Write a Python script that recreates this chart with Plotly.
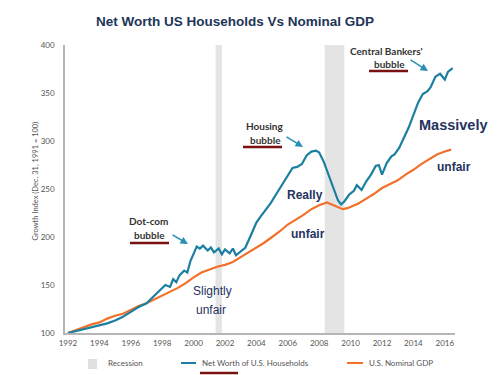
import plotly.graph_objects as go

# ---- data ----
nw_years = [1992.0, 1992.5, 1993.0, 1993.5, 1994.0, 1994.5, 1995.0, 1995.5, 1996.0, 1996.5,
            1997.0, 1997.3, 1997.6, 1997.9, 1998.2, 1998.5, 1998.7, 1998.9, 1999.1, 1999.4,
            1999.6, 1999.8, 2000.0, 2000.2, 2000.4, 2000.6, 2000.9, 2001.1, 2001.3, 2001.6,
            2001.8, 2002.0, 2002.3, 2002.5, 2002.7, 2003.0, 2003.3, 2003.6, 2004.0, 2004.3,
            2004.6, 2004.9, 2005.2, 2005.5, 2005.8, 2006.1, 2006.3, 2006.6, 2006.9, 2007.2,
            2007.5, 2007.8, 2008.0, 2008.3, 2008.6, 2008.9, 2009.2, 2009.4, 2009.6, 2009.9,
            2010.2, 2010.4, 2010.7, 2011.0, 2011.3, 2011.6, 2011.8, 2012.0, 2012.3, 2012.6,
            2012.8, 2013.1, 2013.4, 2013.7, 2014.0, 2014.3, 2014.6, 2014.9, 2015.1, 2015.4,
            2015.7, 2016.0, 2016.2, 2016.5]
net_worth = [100, 102, 104, 106, 108, 110, 113, 117, 122, 127,
             131, 136, 141, 146, 150, 148, 156, 153, 160, 165,
             163, 175, 182, 190, 188, 191, 186, 189, 184, 188,
             182, 187, 183, 188, 181, 185, 189, 200, 215, 222,
             228, 235, 243, 251, 258, 266, 272, 273, 276, 285,
             289, 290, 288, 278, 265, 251, 238, 234, 237, 244,
             248, 254, 249, 258, 265, 274, 275, 265, 277, 284,
             286, 293, 303, 314, 327, 340, 349, 352, 356, 367,
             370, 364, 372, 376]

gdp_years = [1992.0, 1992.5, 1993.0, 1993.5, 1994.0, 1994.5, 1995.0, 1995.5, 1996.0, 1996.5,
             1997.0, 1997.5, 1998.0, 1998.5, 1999.0, 1999.5, 2000.0, 2000.5, 2001.0, 2001.5,
             2002.0, 2002.5, 2003.0, 2003.5, 2004.0, 2004.5, 2005.0, 2005.5, 2006.0, 2006.5,
             2007.0, 2007.5, 2008.0, 2008.5, 2008.8, 2009.2, 2009.5, 2009.8, 2010.2, 2010.5,
             2011.0, 2011.5, 2012.0, 2012.5, 2013.0, 2013.5, 2014.0, 2014.5, 2015.0, 2015.5,
             2016.0, 2016.4]
nominal_gdp = [100, 103, 106, 109, 111, 115, 118, 120, 124, 128,
               131, 135, 139, 143, 147, 152, 158, 163, 166, 169,
               171, 174, 179, 184, 189, 194, 200, 206, 213, 218,
               223, 229, 233, 236, 234, 231, 229, 230, 233, 235,
               240, 245, 251, 255, 259, 265, 270, 276, 281, 286,
               289, 291]

recession_start = [2001.4, 2008.35]
recession_end = [2001.8, 2009.6]

x_ticks = list(range(1992, 2017, 2))
y_ticks = [100, 150, 200, 250, 300, 350, 400]

# ---- layout helpers (pixel -> paper) ----
L, R, T, B = 57, 447, 37, 325
W, H = 500, 375


def px(x):
    return (x - L) / (R - L)


def py(y):
    return (B - y) / (B - T)


BLUE = "#1a7fa0"
ORANGE = "#f2702a"
NAVY = "#24335e"
DARKRED = "#7a1212"
GRAY = "#555555"

fig = go.Figure()

fig.add_trace(go.Scatter(x=gdp_years, y=nominal_gdp, mode="lines",
                         line=dict(color=ORANGE, width=2.2), showlegend=False))
fig.add_trace(go.Scatter(x=nw_years, y=net_worth, mode="lines",
                         line=dict(color=BLUE, width=2.2), showlegend=False))

shapes = []
for s, e in zip(recession_start, recession_end):
    shapes.append(dict(type="rect", xref="x", yref="paper", x0=s, x1=e, y0=0, y1=1,
                       fillcolor="#e4e4e4", line=dict(width=0), layer="below"))

ann = []


def text(x, y, t, size, color, family, bold=False, xanchor="center"):
    ann.append(dict(xref="paper", yref="paper", x=px(x), y=py(y), text=("<b>%s</b>" % t) if bold else t,
                    showarrow=False, xanchor=xanchor, yanchor="middle",
                    font=dict(size=size, color=color, family=family)))


def underline(x0, x1, y, color=DARKRED, w=2.5):
    shapes.append(dict(type="line", xref="paper", yref="paper", x0=px(x0), x1=px(x1),
                       y0=py(y), y1=py(y), line=dict(color=color, width=w)))


def arrow(x0, y0, x1, y1):
    ann.append(dict(xref="paper", yref="paper", x=px(x1), y=py(y1), text="",
                    showarrow=True, axref="pixel", ayref="pixel", ax=x0 - x1, ay=y0 - y1,
                    arrowhead=2, arrowsize=1, arrowwidth=1.5, arrowcolor="#2a8fb5"))


LBL = "Lato"
ARIAL = "Liberation Sans, Arial"

# title
text(227, 14, "Net Worth US Households Vs Nominal GDP", 13.5, "#1d3557", ARIAL, bold=True)

# bubble labels
text(141, 213, "Dot-com", 10, "#333333", LBL, bold=True)
text(141, 227, "bubble", 10, "#333333", LBL, bold=True)
underline(122, 161, 235)
arrow(163, 226, 180, 236)

text(257, 118, "Housing", 10, "#333333", LBL, bold=True)
text(257, 132, "bubble", 10, "#333333", LBL, bold=True)
underline(235, 274, 139)
arrow(277, 128, 295, 139)

text(378, 43, "Central Bankers'", 10, "#333333", LBL, bold=True)
text(381, 56, "bubble", 10, "#333333", LBL, bold=True)
underline(361, 400, 63)
arrow(401, 51, 420, 63)

# commentary
text(204, 283, "Slightly", 12, NAVY, ARIAL)
text(203, 302, "unfair", 12, NAVY, ARIAL)
text(297, 187, "Really", 12, NAVY, ARIAL, bold=True)
text(300, 226, "unfair", 12, NAVY, ARIAL, bold=True)
text(445, 117, "Massively", 14.5, NAVY, ARIAL, bold=True)
text(446, 159, "unfair", 12, NAVY, ARIAL, bold=True)

# y axis title
ann.append(dict(xref="paper", yref="paper", x=px(20), y=py(173), text="Growth Index (Dec. 31, 1991 = 100)",
                showarrow=False, textangle=-90, font=dict(size=7.5, color=GRAY, family=LBL)))

# legend
shapes.append(dict(type="rect", xref="paper", yref="paper", x0=px(80), x1=px(89),
                   y0=py(361), y1=py(351), fillcolor="#e0e0e0", line=dict(width=0)))
text(98, 355, "Recession", 8, GRAY, LBL, xanchor="left")
shapes.append(dict(type="line", xref="paper", yref="paper", x0=px(173), x1=px(188),
                   y0=py(355), y1=py(355), line=dict(color=BLUE, width=2)))
text(192, 355, "Net Worth of U.S. Households", 8, GRAY, LBL, xanchor="left")
underline(192, 230, 365)
shapes.append(dict(type="line", xref="paper", yref="paper", x0=px(339), x1=px(355),
                   y0=py(355), y1=py(355), line=dict(color=ORANGE, width=2)))
text(359, 355, "U.S. Nominal GDP", 8, GRAY, LBL, xanchor="left")

fig.update_layout(
    width=W, height=H,
    margin=dict(l=L, r=W - R, t=T, b=H - B),
    paper_bgcolor="white", plot_bgcolor="white",
    shapes=shapes, annotations=ann,
    showlegend=False,
)
fig.update_xaxes(range=[1991.81, 2016.65], tickvals=x_ticks, ticktext=[str(v) for v in x_ticks],
                 showgrid=False, zeroline=False, showline=True, linecolor="#b5b5b5", linewidth=1.5,
                 ticks="outside", ticklen=2, tickcolor="rgba(0,0,0,0)",
                 tickfont=dict(size=8, color=GRAY, family=LBL))
fig.update_yaxes(range=[100, 400], tickvals=y_ticks, ticktext=[str(v) for v in y_ticks],
                 showgrid=False, zeroline=False, showline=True, linecolor="#b5b5b5", linewidth=1.5,
                 ticks="outside", ticklen=7, tickcolor="rgba(0,0,0,0)",
                 tickfont=dict(size=8, color=GRAY, family=LBL))

fig.write_html("out.html")
